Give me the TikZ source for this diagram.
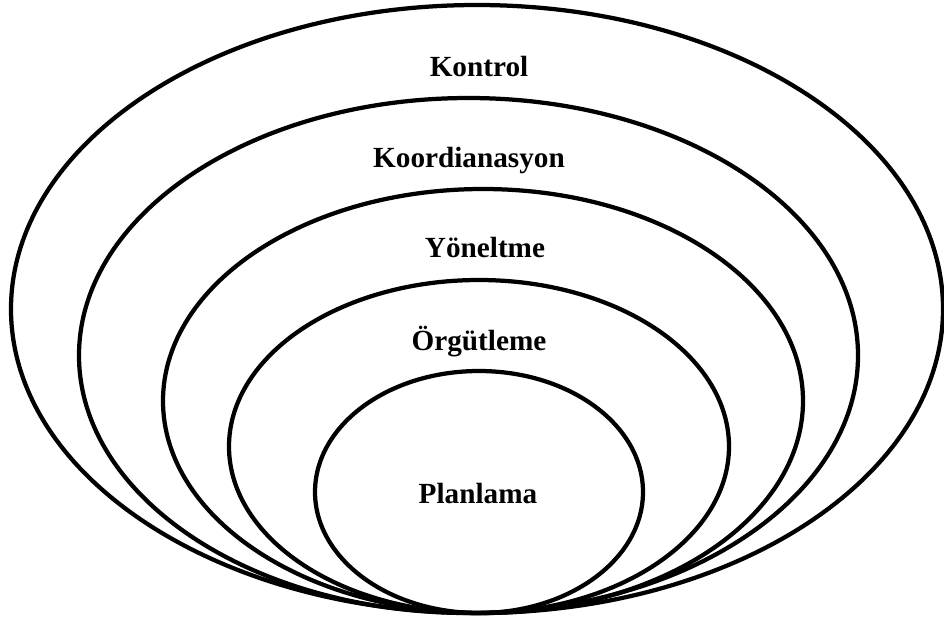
\documentclass[tikz,border=0pt]{standalone}
\usepackage{fontspec}
\setmainfont{Liberation Serif}
\begin{document}
\begin{tikzpicture}[x=0.02646cm, y=-0.02646cm, line width=3.2pt, font=\fontsize{22}{26}\selectfont\bfseries]
	\useasboundingbox (0,0) rectangle (944,624);
	\path 
	(477,309) coordinate (O1) 
	(468.5,355.5) coordinate (O2)
	(483,401) coordinate (O3)
	(479,446.5) coordinate (O4)
	(479,492) coordinate (O5)
	; 
	\draw (O1) ellipse [x radius=466, y radius=304];
	\draw (O2) ellipse [x radius=389.5, y radius=257.5];
	\draw (O3) ellipse [x radius=320, y radius=212];
	\draw (O4) ellipse [x radius=250, y radius=166.5];
	\draw (O5) ellipse [x radius=164, y radius=121];
	\node[anchor=base] (kontrol) at (479,76) {Kontrol};
	\node[anchor=base] (koord) at (469,167) {Koordianasyon};
	\node[anchor=base] (yonelt) at (485,257) {Yöneltme};
	\node[anchor=base] (orgut) at (479,350) {Örgütleme};
	\node[anchor=base] (plan) at (478,503) {Planlama};
\end{tikzpicture}
\end{document}
